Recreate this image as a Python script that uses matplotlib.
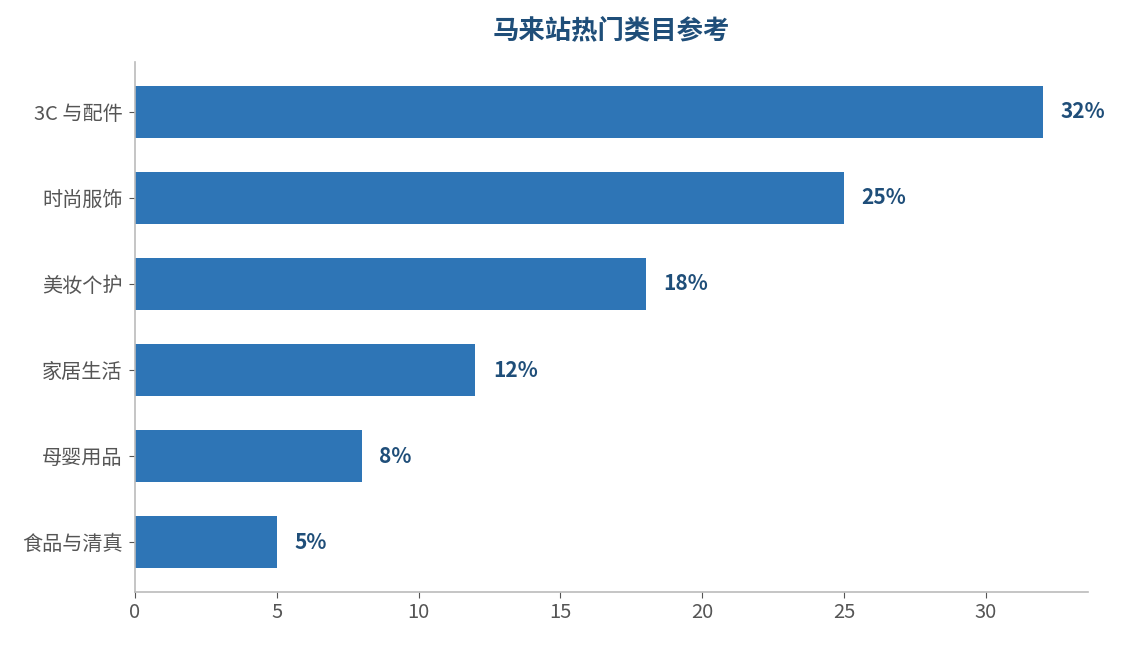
import matplotlib
matplotlib.use("Agg")
import matplotlib.pyplot as plt

plt.rcParams["font.family"] = ["Noto Sans CJK SC", "DejaVu Sans"]

categories = ["3C 与配件", "时尚服饰", "美妆个护", "家居生活", "母婴用品", "食品与清真"]
shares = [32, 25, 18, 12, 8, 5]

fig = plt.figure(figsize=(11.22, 6.45), dpi=100)
ax = fig.add_axes([135 / 1122, 1 - 592 / 645, (1088 - 135) / 1122, (592 - 62) / 645])

ypos = list(range(len(categories)))[::-1]
ax.barh(ypos, shares, height=0.6, color="#2E75B6")
for y, v in zip(ypos, shares):
    ax.text(v + 0.62, y, f"{v}%", va="center", ha="left", fontsize=15,
            fontweight="bold", color="#1F4E79")

ax.set_yticks(ypos)
ax.set_yticklabels(categories)
ax.set_xlim(0, 33.6)
ax.set_xticks([0, 5, 10, 15, 20, 25, 30])
ax.tick_params(axis="y", labelsize=14.5, colors="#555555", length=4, pad=5)
ax.tick_params(axis="x", labelsize=14.5, colors="#555555", length=4)
for s in ["top", "right"]:
    ax.spines[s].set_visible(False)
for s in ["left", "bottom"]:
    ax.spines[s].set_color("#BBBBBB")
    ax.spines[s].set_linewidth(1.2)

ax.set_title("马来站热门类目参考", fontsize=19, fontweight="bold", color="#1F4E79", pad=17)

fig.savefig("out.png", dpi=100)
